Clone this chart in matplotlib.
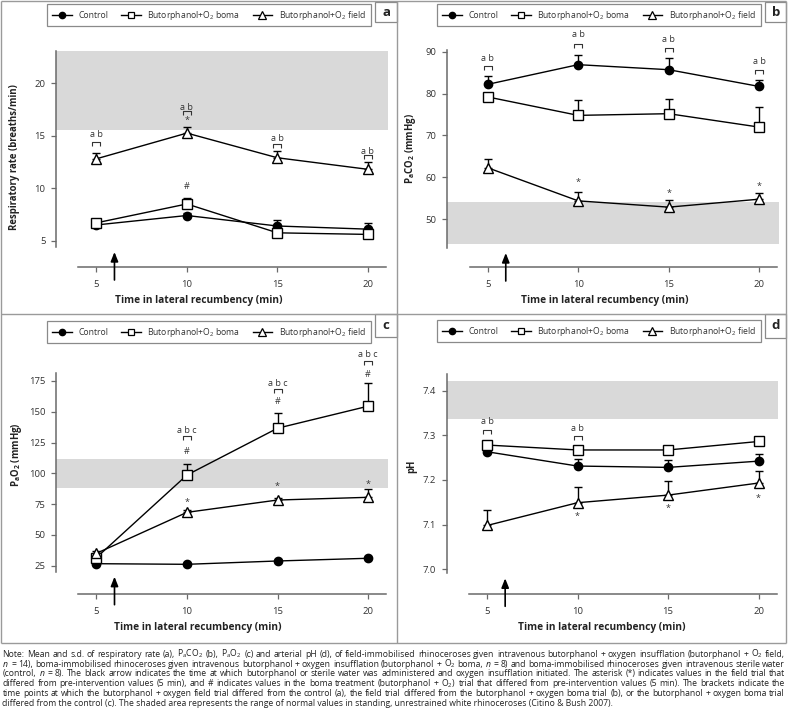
import matplotlib
matplotlib.use('Agg')
import matplotlib.pyplot as plt
from matplotlib import font_manager
from matplotlib.transforms import offset_copy, blended_transform_factory
from matplotlib.path import Path
from matplotlib.lines import Line2D
from matplotlib.patches import Rectangle
import numpy as np

names = {f.name for f in font_manager.fontManager.ttflist}
MAIN = 'Open Sans' if 'Open Sans' in names else 'DejaVu Sans'
NARROW = 'Liberation Sans Narrow' if 'Liberation Sans Narrow' in names else MAIN

plt.rcParams['font.family'] = [MAIN, 'DejaVu Sans']
plt.rcParams['mathtext.fontset'] = 'custom'
plt.rcParams['mathtext.rm'] = MAIN
plt.rcParams['mathtext.it'] = MAIN + ':italic'
plt.rcParams['mathtext.bf'] = MAIN + ':bold'

# ---------------- data ----------------
times = [5, 10, 15, 20]
series_labels = ['Control', 'Butorphanol+O$_2$ boma', 'Butorphanol+O$_2$ field']

# (a) respiratory rate (breaths/min)
rr_control = [6.5, 7.4, 6.4, 6.1]
rr_control_sd = [0.2, 0.2, 0.6, 0.55]
rr_boma = [6.7, 8.5, 5.75, 5.6]
rr_boma_sd = [0.2, 0.6, 0.2, 0.2]
rr_field = [12.8, 15.25, 12.9, 11.8]
rr_field_sd = [0.55, 0.6, 0.65, 0.65]
rr_normal = [15.5, 23.07]

# (b) PaCO2 (mmHg)
co2_control = [82.2, 86.9, 85.7, 81.7]
co2_control_sd = [2.0, 2.4, 2.9, 1.5]
co2_boma = [79.2, 74.8, 75.2, 72.0]
co2_boma_sd = [1.0, 3.6, 3.6, 4.7]
co2_field = [62.3, 54.4, 52.9, 54.8]
co2_field_sd = [2.1, 2.0, 1.8, 1.4]
co2_normal = [44.1, 54.1]

# (c) PaO2 (mmHg)
o2_control = [26.6, 26.1, 28.8, 31.0]
o2_control_sd = [1.0, 1.0, 1.0, 1.0]
o2_boma = [31.5, 98.6, 136.6, 154.5]
o2_boma_sd = [2.0, 9.0, 12.7, 19.0]
o2_field = [35.0, 68.3, 78.3, 80.5]
o2_field_sd = [2.0, 2.0, 2.0, 6.5]
o2_normal = [88.3, 111.4]

# (d) pH
ph_control = [7.263, 7.231, 7.228, 7.242]
ph_control_sd = [0.005, 0.016, 0.017, 0.016]
ph_boma = [7.278, 7.267, 7.267, 7.286]
ph_boma_sd = [0.007, 0.008, 0.005, 0.006]
ph_field = [7.098, 7.149, 7.166, 7.193]
ph_field_sd = [0.035, 0.036, 0.032, 0.028]
ph_normal = [7.336, 7.422]

# significance annotations: (time, text, y)
ann_a = [(5, 'a b', 15.07), (10, 'a b', 17.73), (15, 'a b', 14.78), (20, 'a b', 13.54),
         (10, '*', 16.5), (10, '#', 10.2)]
brk_a = [(5, 14.21), (10, 17.16), (15, 14.02), (20, 12.97)]
ann_b = [(5, 'a b', 88.33), (10, 'a b', 93.99), (15, 'a b', 92.79), (20, 'a b', 87.61),
         (10, '*', 58.73), (15, '*', 56.2), (20, '*', 57.78)]
brk_b = [(5, 86.04), (10, 91.43), (15, 90.4), (20, 85.23)]
ann_c = [(10, 'a b c', 135.1), (15, 'a b c', 173.1), (20, 'a b c', 196.8),
         (10, '#', 118.1), (15, '#', 158.1), (20, '#', 180.6),
         (10, '*', 76.5), (15, '*', 89.1), (20, '*', 91.3)]
brk_c = [(10, 128.9), (15, 167.0), (20, 189.3)]
ann_d = [(5, 'a b', 7.330), (10, 'a b', 7.316),
         (10, '*', 7.118), (15, '*', 7.137), (20, '*', 7.159)]
brk_d = [(5, 7.308), (10, 7.293)]

note_lines = [
    "Note: Mean and s.d. of respiratory rate (a), P$_{\\mathrm{a}}$CO$_{2}$ (b), P$_{\\mathrm{a}}$O$_{2}$ (c) and arterial pH (d), of field-immobilised rhinoceroses given intravenous butorphanol + oxygen insufflation (butorphanol + O$_{2}$ field,",
    "$n$ = 14), boma-immobilised rhinoceroses given intravenous butorphanol + oxygen insufflation (butorphanol + O$_{2}$ boma, $n$ = 8) and boma-immobilised rhinoceroses given intravenous sterile water",
    "(control, $n$ = 8). The black arrow indicates the time at which butorphanol or sterile water was administered and oxygen insufflation initiated. The asterisk (*) indicates values in the field trial that",
    "differed from pre-intervention values (5 min), and # indicates values in the boma treatment (butorphanol + O$_{2}$) trial that differed from pre-intervention values (5 min). The brackets indicate the",
    "time points at which the butorphanol + oxygen field trial differed from the control (a), the field trial differed from the butorphanol + oxygen boma trial (b), or the butorphanol + oxygen boma trial",
    "differed from the control (c). The shaded area represents the range of normal values in standing, unrestrained white rhinoceroses (Citino & Bush 2007).",
]

# ---------------- layout ----------------
W, H = 788, 714
DPI = 100
fig = plt.figure(figsize=(W / DPI, H / DPI), dpi=DPI)

ov = fig.add_axes([0, 0, 1, 1], zorder=0)
ov.set_xlim(0, W)
ov.set_ylim(H, 0)
ov.axis('off')

FRAME = '#9a9a9a'
for (x0, y0, x1, y1) in [(1.5, 0.5, 786.5, 0.5), (1.5, 642.5, 786.5, 642.5),
                         (1.5, 0.5, 1.5, 642.5), (786.5, 0.5, 786.5, 642.5),
                         (397, 0.5, 397, 642.5), (1.5, 314, 786.5, 314)]:
    ov.plot([x0, x1], [y0, y1], color=FRAME, lw=1, solid_capstyle='butt')

TXT = '#333333'
AX = '#6a6a6a'


def rect(l, t, r, b):
    return [l / W, 1 - b / H, (r - l) / W, (b - t) / H]


bracket = Path([(-1, -0.4), (-1, 0.4), (1, 0.4), (1, -0.4)],
               [Path.MOVETO, Path.LINETO, Path.LINETO, Path.LINETO])

handles = [
    Line2D([], [], color='k', lw=1, marker='o', ms=4.5, mfc='k', mec='k'),
    Line2D([], [], color='k', lw=1, marker='s', ms=5, mfc='white', mec='k', mew=0.9),
    Line2D([], [], color='k', lw=1, marker='^', ms=5.5, mfc='white', mec='k', mew=0.9),
]

panels = [
    dict(r=(56, 51, 387.8, 247), xoff=20, ylim=(4.4, 23.07), yt=[5, 10, 15, 20], ytl=['5', '10', '15', '20'],
         normal=rr_normal, data=[(rr_control, rr_control_sd), (rr_boma, rr_boma_sd), (rr_field, rr_field_sd)],
         ann=ann_a, brk=brk_a, leg=(47, 4, 371, 24), box=(375.5, 2, 397, 22), letter='a',
         ylab='Respiratory rate (breaths/min)', ylpos=(15, 156.7), xlpos=(199, 301)),
    dict(r=(447.3, 50, 779.1, 248), xoff=19, ylim=(43.15, 90.4), yt=[50, 60, 70, 80, 90], ytl=['50', '60', '70', '80', '90'],
         normal=co2_normal, data=[(co2_control, co2_control_sd), (co2_boma, co2_boma_sd), (co2_field, co2_field_sd)],
         ann=ann_b, brk=brk_b, leg=(437, 4, 761, 24), box=(765, 2, 786.5, 22), letter='b',
         ylab='P$_{\\mathbf{a}}$CO$_{\\mathbf{2}}$ (mmHg)', ylpos=(410.7, 149), xlpos=(605, 301)),
    dict(r=(56, 373.3, 388, 571.7), xoff=22.3, ylim=(20.1, 181.2), yt=[25, 50, 75, 100, 125, 150, 175],
         ytl=['25', '50', '75', '100', '125', '150', '175'],
         normal=o2_normal, data=[(o2_control, o2_control_sd), (o2_boma, o2_boma_sd), (o2_field, o2_field_sd)],
         ann=ann_c, brk=brk_c, leg=(47, 321, 371, 341), box=(375.5, 314, 397, 336.5), letter='c',
         ylab='P$_{\\mathbf{a}}$O$_{\\mathbf{2}}$ (mmHg)', ylpos=(16.7, 455), xlpos=(198, 627.7)),
    dict(r=(446.7, 374, 778.5, 573.3), xoff=20.7, ylim=(6.991, 7.437), yt=[7.0, 7.1, 7.2, 7.3, 7.4],
         ytl=['7.0', '7.1', '7.2', '7.3', '7.4'],
         normal=ph_normal, data=[(ph_control, ph_control_sd), (ph_boma, ph_boma_sd), (ph_field, ph_field_sd)],
         ann=ann_d, brk=brk_d, leg=(437, 320, 761, 340), box=(765, 314, 786.5, 337.5), letter='d',
         ylab='pH', ylpos=(412, 466.7), xlpos=(602, 627.7)),
]

styles = [
    dict(marker='o', ms=6, mfc='k', mec='k', mew=1),
    dict(marker='s', ms=6.5, mfc='white', mec='k', mew=1),
    dict(marker='^', ms=7.5, mfc='white', mec='k', mew=1),
]

for p in panels:
    ax = fig.add_axes(rect(*p['r']), zorder=2)
    ax.set_facecolor('none')
    ax.set_xlim(2.77, 21.1)
    ax.set_ylim(*p['ylim'])
    ax.axhspan(p['normal'][0], p['normal'][1], color='#d9d9d9', lw=0, zorder=0)
    for (vals, sd), st in zip(p['data'], styles):
        ax.errorbar(times, vals, yerr=[np.zeros(len(sd)), sd], fmt='none', ecolor='k',
                    elinewidth=1, capsize=2.6, capthick=1, zorder=2)
        ax.plot(times, vals, color='k', lw=1, zorder=3, **st)
    for s in ['top', 'right']:
        ax.spines[s].set_visible(False)
    for s in ['left', 'bottom']:
        ax.spines[s].set_color(AX)
        ax.spines[s].set_linewidth(1.1)
    ax.spines['bottom'].set_position(('outward', p['xoff'] * 0.72))
    ax.spines['bottom'].set_bounds(4, 21)
    ax.set_xticks(times)
    ax.set_xticklabels([str(t) for t in times])
    ax.set_yticks(p['yt'])
    ax.set_yticklabels(p['ytl'])
    ax.tick_params(axis='both', direction='out', length=3.6, width=0.9, color=AX,
                   labelsize=6.8, labelcolor=TXT)
    ax.tick_params(axis='y', pad=4.0)
    ax.tick_params(axis='x', pad=5.5)
    for (t, s, y) in p['ann']:
        ax.text(t, y, s, ha='center', va='center', fontsize=6.5, color=TXT, zorder=5)
    for (t, y) in p['brk']:
        ax.plot([t], [y], marker=bracket, ms=6, mec=TXT, mfc='none', mew=0.8, ls='none',
                clip_on=False, zorder=5)
    # arrow marking the intervention time
    tr = offset_copy(blended_transform_factory(ax.transData, ax.transAxes), fig=fig, y=-5, units='dots')
    ax.annotate('', xy=(6, 0), xycoords=tr, xytext=(0, -28), textcoords='offset pixels',
                arrowprops=dict(arrowstyle='-|>,head_length=0.55,head_width=0.22', color='k',
                                lw=1.2, shrinkA=0, shrinkB=0), annotation_clip=False)
    # legend
    l, t, r, b = p['leg']
    leg = ax.legend(handles, series_labels, loc='upper left', ncol=3, mode='expand',
                    bbox_to_anchor=(l / W, 1 - b / H, (r - l) / W, (b - t) / H),
                    bbox_transform=fig.transFigure, borderaxespad=0, fancybox=False,
                    edgecolor='#8a8a8a', framealpha=1, handlelength=2.3, handletextpad=0.8,
                    borderpad=0.55, prop=dict(family=NARROW, size=6.2))
    leg.get_frame().set_linewidth(0.9)
    for txt in leg.get_texts():
        txt.set_color(TXT)
    # panel letter box
    bl, bt, br, bb = p['box']
    ov.add_patch(Rectangle((bl, bt), br - bl, bb - bt, fill=True, fc='white', ec='#8a8a8a', lw=0.9))
    ov.text((bl + br) / 2, (bt + bb) / 2, p['letter'], ha='center', va='center', fontsize=9.5,
            fontweight='bold', color='#222222')
    ov.text(p['ylpos'][0], p['ylpos'][1], p['ylab'], rotation=90, ha='center', va='center',
            fontsize=6.9, fontweight='bold', color='#222222')
    ov.text(p['xlpos'][0], p['xlpos'][1], 'Time in lateral recumbency (min)', ha='center', va='center',
            fontsize=7.3, fontweight='bold', color='#222222')

# ---------------- justified note ----------------
renderer = fig.canvas.get_renderer()
NOTE_FS = 6.2
xl, xr = 2.5, 785
for i, line in enumerate(note_lines):
    yb = 657 + 9.7 * i
    if i == len(note_lines) - 1:
        ov.text(xl, yb, line, fontsize=NOTE_FS, ha='left', va='baseline', color='#222222')
        continue
    words = line.split(' ')
    objs = [ov.text(0, yb, w, fontsize=NOTE_FS, ha='left', va='baseline', color='#222222') for w in words]
    widths = [o.get_window_extent(renderer).width for o in objs]
    gap = (xr - xl - sum(widths)) / (len(words) - 1)
    x = xl
    for o, w in zip(objs, widths):
        o.set_x(x)
        x += w + gap

fig.savefig('out.png', dpi=DPI)
